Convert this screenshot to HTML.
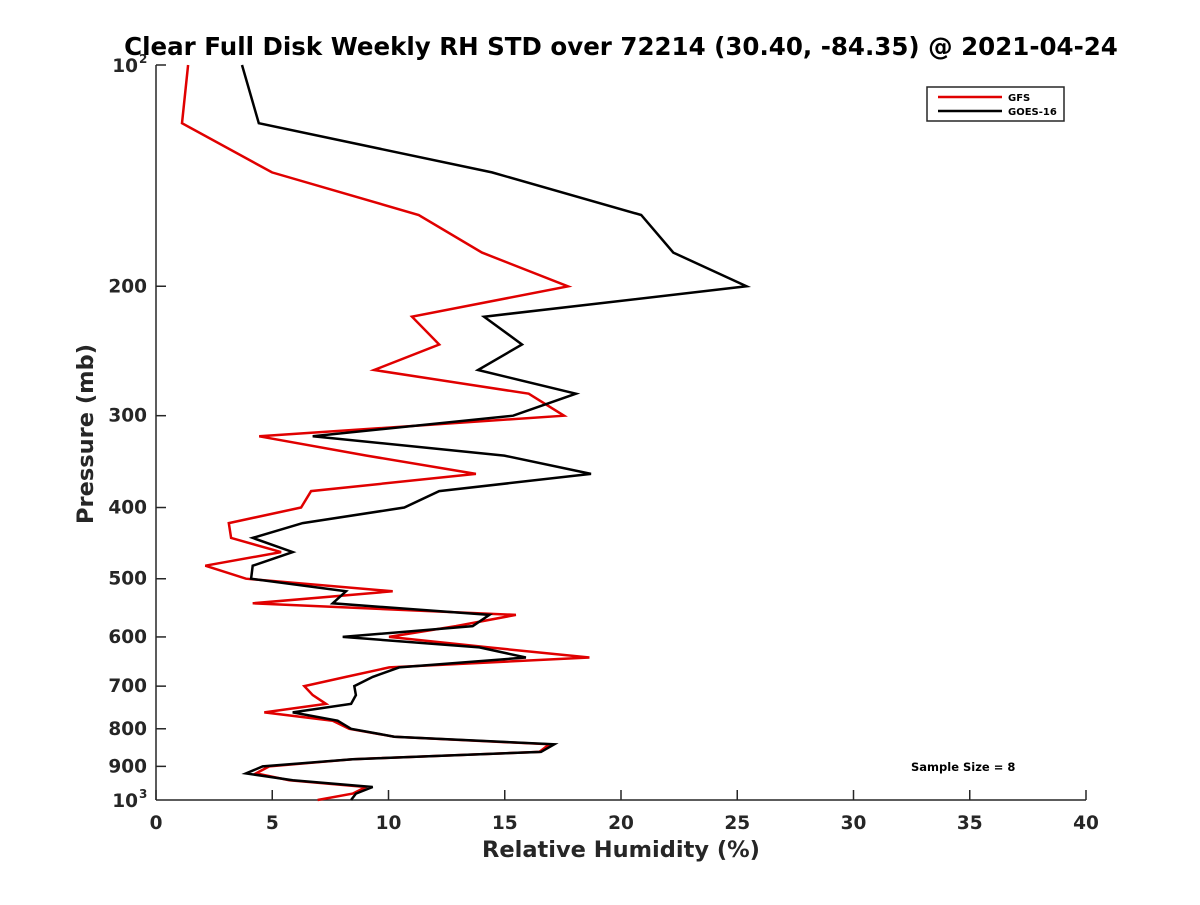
<!DOCTYPE html>
<html><head><meta charset="utf-8"><style>
body{margin:0;background:#fff;}
svg text{font-family:"DejaVu Sans","Liberation Sans",sans-serif;font-weight:bold;fill:#262626;}
</style></head><body>
<svg id="chart" width="1200" height="900" xmlns="http://www.w3.org/2000/svg">
<rect width="1200" height="900" fill="#fff"/>
<text x="621" y="55" text-anchor="middle" font-size="24.5" style="fill:#000">Clear Full Disk Weekly RH STD over 72214 (30.40, -84.35) @ 2021-04-24</text>
<g id="axes"></g>
<g id="series"></g>
<g>
<rect x="927" y="87" width="137" height="34" fill="#fff" stroke="#262626" stroke-width="1.5"/>
<line x1="938" y1="97" x2="1002" y2="97" stroke="#e00000" stroke-width="2.5"/>
<text x="1008" y="101" font-size="10" style="fill:#000">GFS</text>
<line x1="938" y1="111" x2="1002" y2="111" stroke="#000" stroke-width="2.5"/>
<text x="1008" y="115" font-size="10" style="fill:#000">GOES-16</text>
</g>
<text x="911" y="771" font-size="11.5" style="fill:#000">Sample Size = 8</text>
<text x="621" y="857" text-anchor="middle" font-size="22.5">Relative Humidity (%)</text>
<text transform="translate(93,434) rotate(-90)" text-anchor="middle" font-size="22.5">Pressure (mb)</text>
</svg>
<script>
const pressures=[100,120,140,160,180,200,220,240,260,280,300,320,340,360,380,400,420,440,460,480,500,520,540,560,580,600,620,640,660,680,700,720,740,760,780,800,820,840,860,880,900,920,940,960,980,1000];
const goesValues=[3.70,4.42,14.45,20.87,22.25,25.4,14.11,15.74,13.85,18.06,15.36,6.74,14.98,18.71,12.18,10.68,6.31,4.16,5.88,4.16,4.09,8.17,7.60,14.34,13.62,8.03,13.91,15.91,10.46,9.32,8.53,8.60,8.39,5.88,7.81,8.39,10.25,17.13,16.56,8.46,4.59,3.87,5.88,9.32,8.60,8.39];
const gfsValues=[1.38,1.12,4.99,11.30,14.02,17.72,11.01,12.18,9.38,16.03,17.55,4.44,9.06,13.76,6.67,6.24,3.13,3.23,5.38,2.12,3.87,10.18,4.16,15.48,12.90,10.02,14.32,18.64,10.03,8.17,6.38,6.74,7.31,4.66,7.60,8.31,10.25,16.92,16.49,8.46,4.87,4.30,5.73,9.03,8.46,6.95];
const xTicks=[0,5,10,15,20,25,30,35,40];
const yTicks=[200,300,400,500,600,700,800,900];

const NS="http://www.w3.org/2000/svg";
const X0=156,X1=1086,Y0=65,Y1=800;
function xs(v){return X0+(v-0)/(40-0)*(X1-X0);}
function ys(p){return Y0+(Math.log10(p)-2)*(Y1-Y0);}
function mk(tag,attrs,parent){const e=document.createElementNS(NS,tag);for(const k in attrs)e.setAttribute(k,attrs[k]);parent.appendChild(e);return e;}
const axes=document.getElementById('axes');
const ax=mk('line',{x1:X0,y1:Y1,x2:X1,y2:Y1,stroke:'#262626','stroke-width':1.5},axes);


const ay=mk('line',{x1:X0,y1:Y0,x2:X0,y2:Y1,stroke:'#262626','stroke-width':1.5},axes);


xTicks.forEach(t=>{
  const x=xs(t);
  mk('line',{x1:x,y1:Y1,x2:x,y2:Y1-10,stroke:'#262626','stroke-width':1.5},axes);
  const tx=mk('text',{x:x,y:Y1+29,'text-anchor':'middle','font-size':18.5},axes);
  tx.textContent=t;
  
  
});
mk('line',{x1:X0,y1:Y0,x2:X0+10,y2:Y0,stroke:'#262626','stroke-width':1.5},axes);
yTicks.forEach(t=>{
  const y=ys(t);
  mk('line',{x1:X0,y1:y,x2:X0+10,y2:y,stroke:'#262626','stroke-width':1.5},axes);
  const tx=mk('text',{x:X0-9,y:y+6,'text-anchor':'end','font-size':18.5},axes);
  tx.textContent=t;
  
  
});
[[100,'2'],[1000,'3']].forEach(([p,e])=>{
  const y=ys(p);
  const tx=mk('text',{x:X0-18,y:y+7,'text-anchor':'end','font-size':18.5},axes);
  tx.textContent='10';
  
  
  const sp=mk('text',{x:X0-17,y:y-2,'font-size':12},axes);
  sp.textContent=e;
  
  
});
const series=document.getElementById('series');
function draw(vals,color,name){
  const d=vals.map((v,i)=>(i?'L':'M')+xs(v).toFixed(1)+','+ys(pressures[i]).toFixed(1)).join(' ');
  const p=mk('path',{d:d,fill:'none',stroke:color,'stroke-width':2.5,'stroke-linejoin':'miter'},series);
  
  
}
draw(gfsValues,'#e00000','gfs-line');
draw(goesValues,'#000000','goes16-line');
</script>
</body></html>
